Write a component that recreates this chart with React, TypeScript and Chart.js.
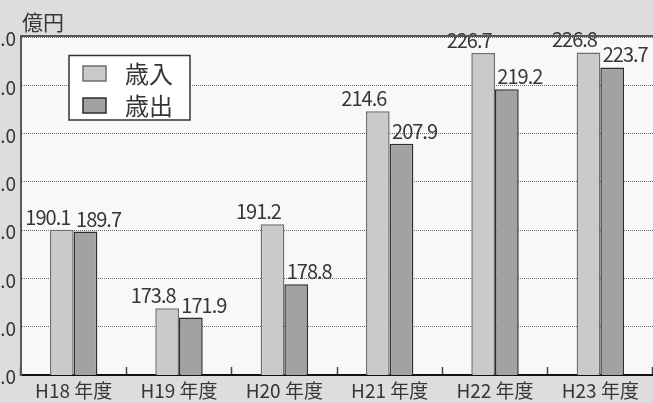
import React, { useEffect, useRef } from 'react';
import { Chart, registerables } from 'chart.js';

Chart.register(...registerables);

const categories = ['H18 年度', 'H19 年度', 'H20 年度', 'H21 年度', 'H22 年度', 'H23 年度'];
const revenue = [190.1, 173.8, 191.2, 214.6, 226.7, 226.8];
const expenditure = [189.7, 171.9, 178.8, 207.9, 219.2, 223.7];
const seriesNames = ['歳入', '歳出'];
const unitLabel = '億円';
const yMin = 160;
const yMax = 230;
const yStep = 10;

const FONT = '"Noto Sans CJK JP", "Noto Sans", sans-serif';
const TEXT = '#363636';

const decor = {
  id: 'decor',
  beforeDraw(chart: any) {
    const { ctx, chartArea: a, width, height } = chart;
    ctx.save();
    ctx.fillStyle = '#dcdddc';
    ctx.fillRect(0, 0, width, height);
    ctx.fillStyle = '#f7f8f7';
    ctx.fillRect(a.left, a.top, a.right - a.left, a.bottom - a.top);
    ctx.restore();
  },
  afterDatasetsDraw(chart: any) {
    const { ctx } = chart;
    ctx.save();
    ctx.font = `20px ${FONT}`;
    (ctx as any).letterSpacing = '-1px';
    ctx.fillStyle = TEXT;
    ctx.textAlign = 'center';
    ctx.textBaseline = 'alphabetic';
    chart.data.datasets.forEach((ds: any, di: number) => {
      const meta = chart.getDatasetMeta(di);
      meta.data.forEach((el: any, i: number) => {
        const v = ds.data[i] as number;
        const dx = di === 0 ? -14 : 13;
        ctx.fillText(v.toFixed(1), el.x + dx, el.y - 5);
      });
    });
    ctx.restore();
  },
  afterDraw(chart: any) {
    const { ctx, chartArea: a } = chart;
    ctx.save();
    // top frame line
    ctx.strokeStyle = '#555';
    ctx.lineWidth = 2;
    ctx.beginPath();
    ctx.moveTo(a.left - 1, a.top - 1);
    ctx.lineTo(a.right, a.top - 1);
    ctx.stroke();
    // unit label
    ctx.fillStyle = TEXT;
    ctx.font = `21px ${FONT}`;
    ctx.textAlign = 'left';
    ctx.textBaseline = 'alphabetic';
    ctx.fillText(unitLabel, 22, 29.5);
    // legend
    const lx = a.left + 48;
    const ly = a.top + 18.5;
    ctx.fillStyle = '#ffffff';
    ctx.fillRect(lx, ly, 121, 64.5);
    ctx.strokeStyle = '#333';
    ctx.lineWidth = 1.5;
    ctx.strokeRect(lx, ly, 121, 64.5);
    ctx.font = `24px ${FONT}`;
    ctx.textBaseline = 'middle';
    chart.data.datasets.forEach((ds: any, di: number) => {
      const sy = ly + 10.5 + di * 32;
      ctx.fillStyle = ds.backgroundColor;
      ctx.fillRect(lx + 14, sy, 23, 15);
      ctx.strokeStyle = ds.borderColor;
      ctx.lineWidth = 1.5;
      ctx.strokeRect(lx + 14, sy, 23, 15);
      ctx.fillStyle = TEXT;
      ctx.fillText(ds.label, lx + 56, sy + 8);
    });
    ctx.restore();
  },
};

export default function App() {
  const ref = useRef<HTMLCanvasElement | null>(null);
  useEffect(() => {
    if (!ref.current) return;
    const chart = new Chart(ref.current, {
      type: 'bar',
      data: {
        labels: categories,
        datasets: [
          {
            label: seriesNames[0],
            data: revenue,
            backgroundColor: '#c9cac9',
            borderColor: '#6e6e6e',
            borderWidth: 1.5,
            categoryPercentage: 0.45,
            barPercentage: 1,
          },
          {
            label: seriesNames[1],
            data: expenditure,
            backgroundColor: '#a1a2a1',
            borderColor: '#2e2e2e',
            borderWidth: 1.5,
            categoryPercentage: 0.45,
            barPercentage: 1,
          },
        ],
      },
      options: {
        responsive: true,
        maintainAspectRatio: false,
        animation: false,
        layout: { padding: { top: 37, left: 0, right: 0, bottom: 0 } },
        plugins: {
          legend: { display: false },
          tooltip: { enabled: false },
          title: { display: false },
        },
        scales: {
          x: {
            afterFit: (s: any) => {
              s.height = 28;
            },
            grid: {
              offset: true,
              drawOnChartArea: false,
              drawTicks: true,
              tickLength: -8,
              tickColor: '#444',
              tickWidth: 1.5,
            },
            border: { display: true, color: '#111', width: 2 },
            ticks: {
              padding: 12,
              color: TEXT,
              font: { family: FONT, size: 19 },
              maxRotation: 0,
              autoSkip: false,
            },
          },
          y: {
            min: yMin,
            max: yMax,
            afterFit: (s: any) => {
              s.width = 21;
            },
            grid: { color: '#6a6a6a', lineWidth: 1, drawTicks: false },
            border: { display: true, color: '#5a5a5a', width: 2, dash: [1, 1] },
            ticks: {
              stepSize: yStep,
              padding: 5,
              labelOffset: 2,
              color: TEXT,
              font: { family: FONT, size: 19 },
              callback: (v: any) => Number(v).toFixed(1),
            },
          },
        },
      },
      plugins: [decor],
    });
    return () => chart.destroy();
  }, []);
  return (
    <div style={{ position: 'fixed', left: 0, top: 0, width: 653, height: 403 }}>
      <canvas ref={ref} />
    </div>
  );
}
